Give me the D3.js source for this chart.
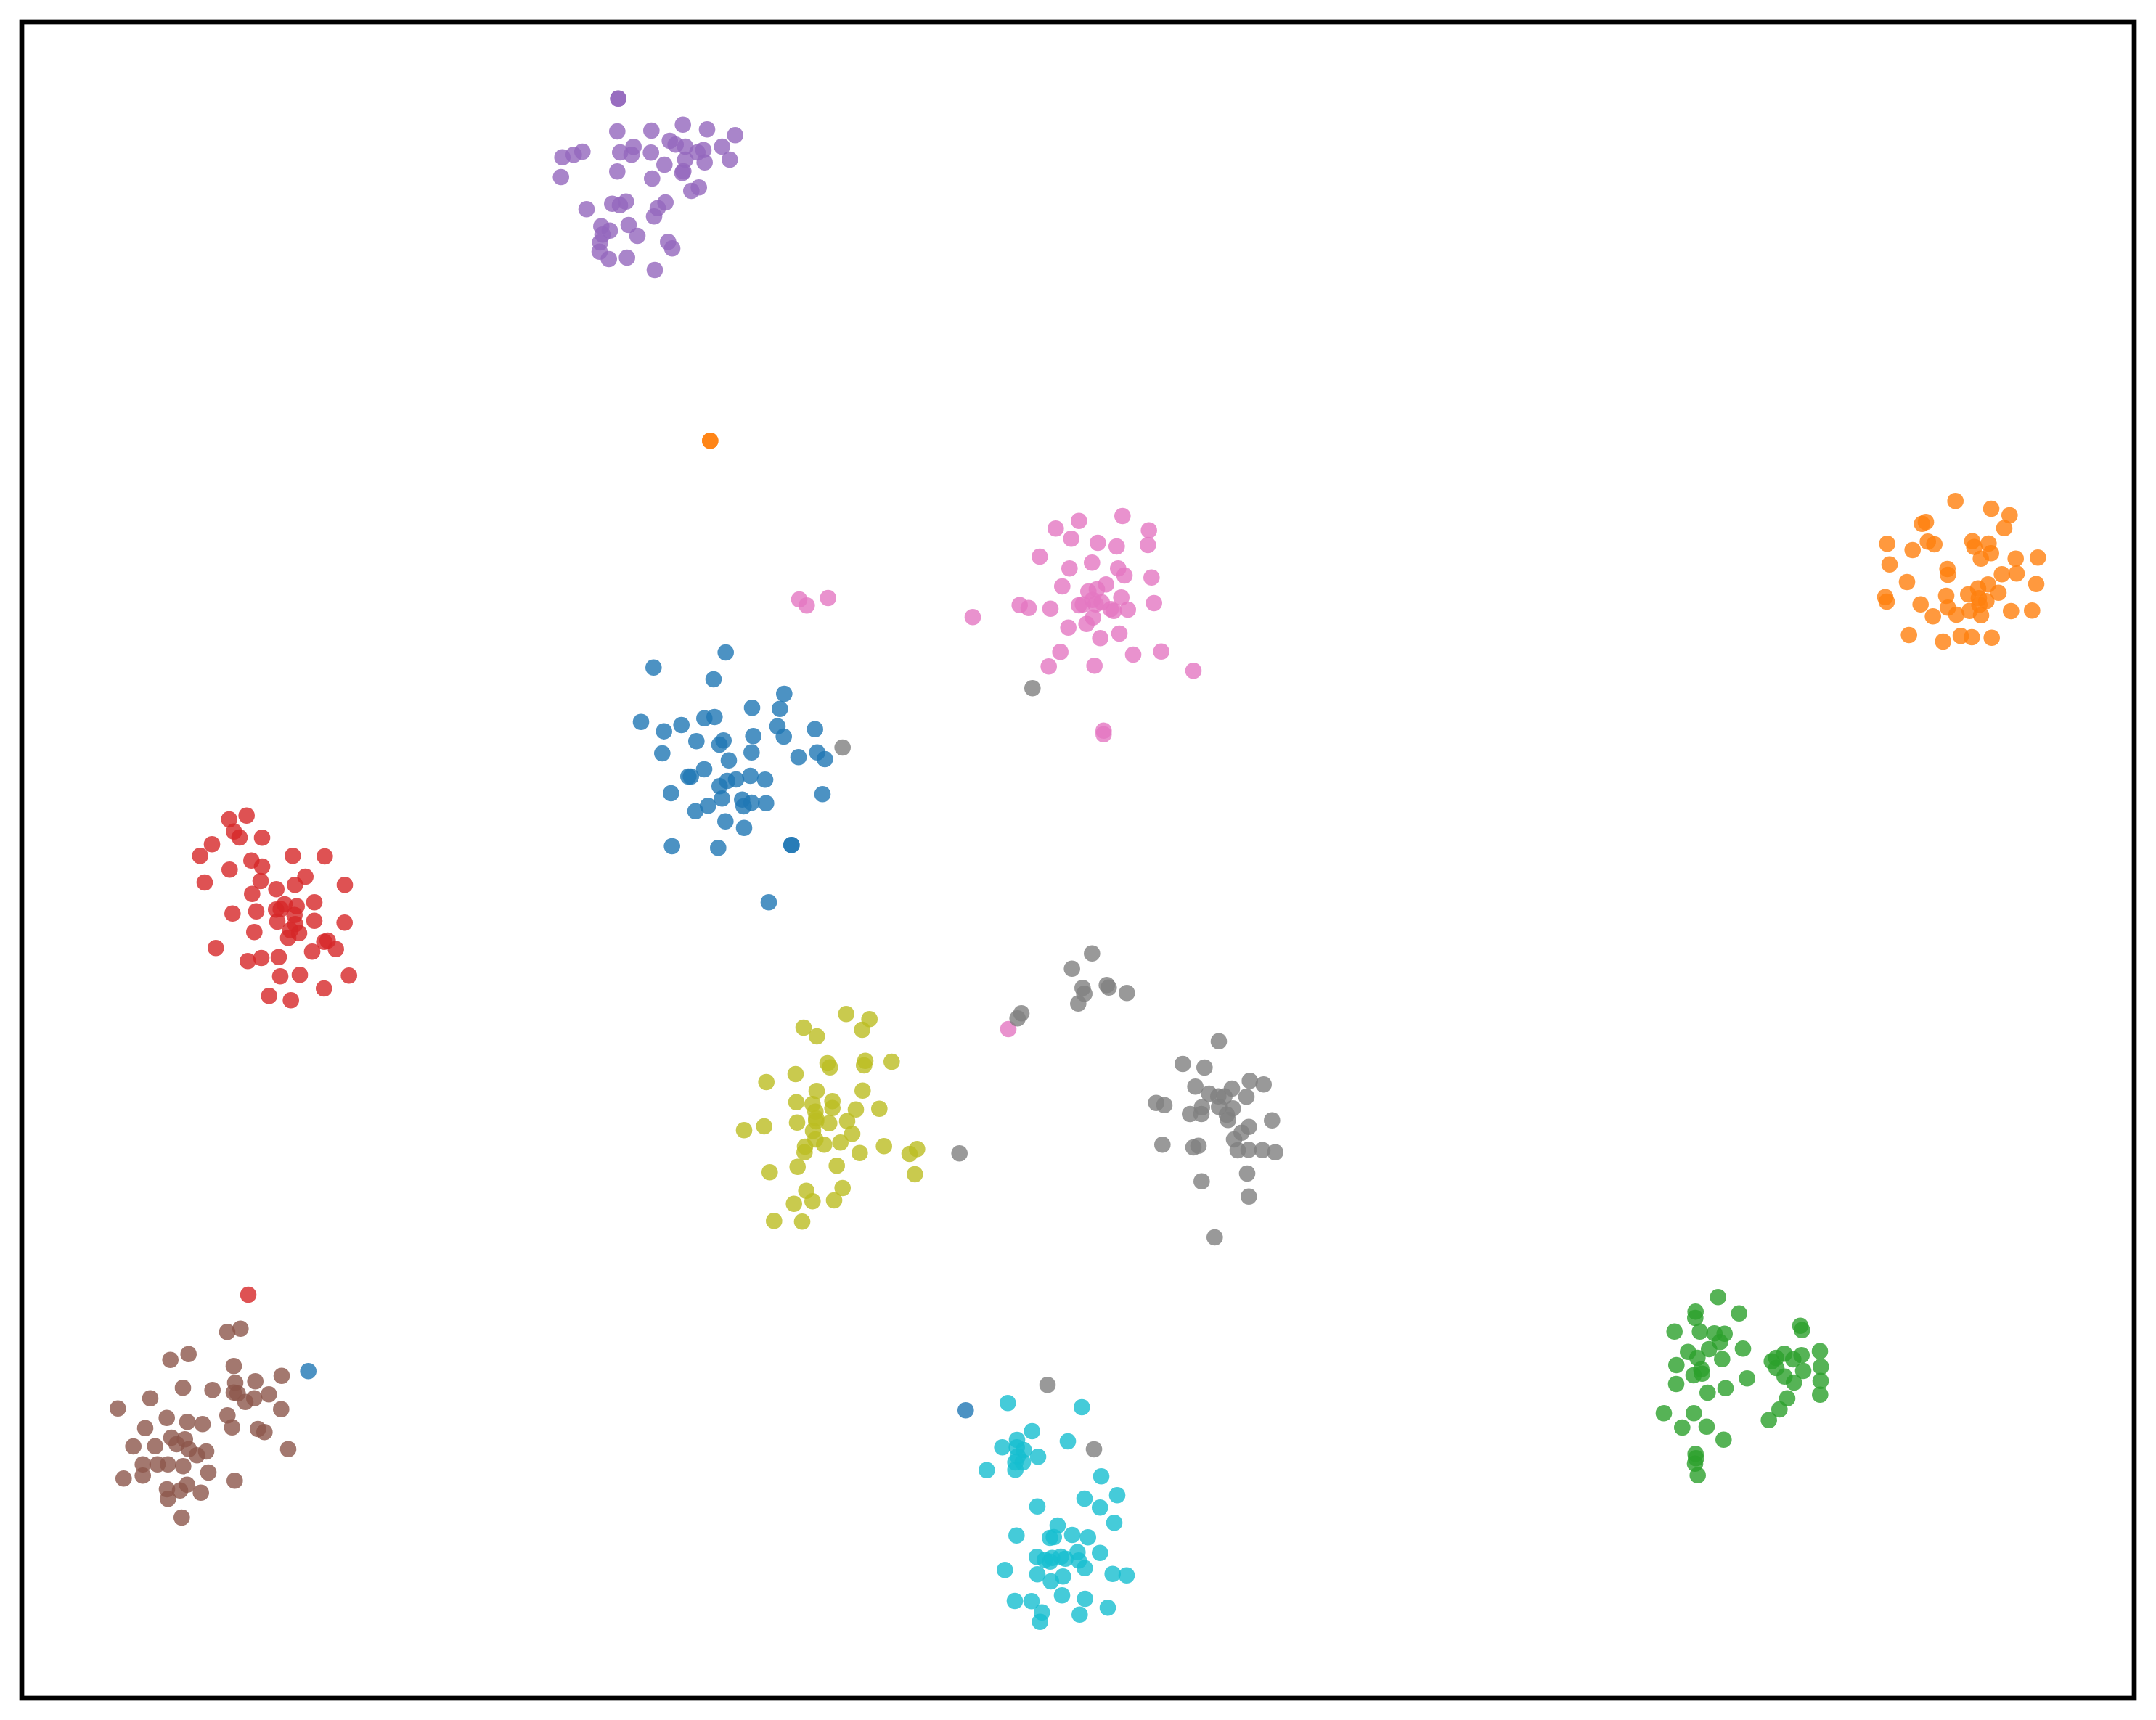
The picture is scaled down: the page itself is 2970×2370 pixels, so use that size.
<!DOCTYPE html>
<html>
<head>
<meta charset="utf-8">
<script src="https://cdn.jsdelivr.net/npm/d3@7"></script>
<style>
  html, body { margin: 0; padding: 0; background: #ffffff; }
  svg { display: block; }
</style>
</head>
<body>
<svg id="graphique"></svg>
<script>
// embedding coordinates (x, y), one array per class
var pts_blue = [
  [999.7,899],[900.3,919.7],[983,936],[1080.3,956],[1036,975.3],[1074.3,976.7],[883,994.7],[914.7,1007.7],
  [938.7,999],[970.3,989.7],[984.3,988],[1071,1000.7],[1079.7,1015],[1122.7,1004.7],[959.3,1021.3],[996.7,1020.3],
  [991,1026],[1037.7,1014.3],[912.3,1038],[1035.3,1036.7],[1004,1047.7],[1100,1043.3],[1125.7,1036.7],[1136.3,1046],
  [970,1060],[948.3,1070],[951.7,1070],[924.3,1093],[991.3,1083.3],[1001.7,1076],[1014,1074],[1033.7,1069],
  [1054,1074.3],[994.7,1100.3],[975.3,1110.3],[958,1117.7],[1022.3,1101.7],[1024.3,1111],[1035.3,1106],[1055.3,1106.7],
  [1133,1094.3],[999.3,1131.7],[1025,1140.7],[925.7,1166],[989.3,1168.3],[1090.3,1164.3],[1090.3,1164.3],[1059,1243.3],
  [1330.3,1943.3],[424.7,1889.3]
];
var pts_orange = [
  [2693.7,690.3],[2743,701],[2768.3,710],[2761,727.7],[2647.7,721.7],[2653,719.3],[2599.7,749.3],[2634.7,758],
  [2655.7,746.3],[2664.7,750],[2717,745.7],[2719.7,753.7],[2739.3,749],[2742.7,762.3],[2728.7,769.7],[2776.7,769.7],
  [2807.3,768.3],[2603,777.7],[2682.7,784],[2683.3,792],[2627,802],[2757.7,791.3],[2778,790.3],[2805,804.7],
  [2725,810.7],[2738.7,805.3],[2753,816.7],[2711.3,819],[2726,824.3],[2736.3,828.3],[2726.7,833.3],[2597,822.7],
  [2599,829],[2645.7,832.7],[2681,821],[2683.3,837.3],[2695,847],[2713.3,841.7],[2729,847.7],[2662.7,849.3],
  [2770.3,842],[2799.3,841.3],[2629.7,875],[2676.7,884],[2701,876.3],[2716.3,878],[2743.7,878.7],
  [978.3,607.3],[978.3,607.3]
];
var pts_green = [
  [2366.7,1787.3],[2395.7,1809.7],[2335.7,1807.3],[2335.3,1816],[2306.7,1834.7],[2341.7,1834.7],[2361.7,1837.3],[2375.7,1837.7],
  [2369.3,1849.3],[2480,1826.7],[2482.3,1832.7],[2325.3,1862.7],[2354.3,1859],[2401,1858.3],[2338.3,1871],[2372.3,1872.7],
  [2309.3,1881],[2343.7,1886.7],[2333,1895],[2344.7,1892.7],[2309,1907],[2406.7,1899.3],[2352.3,1919],[2377,1912.7],
  [2440.7,1875.7],[2446.7,1871],[2458,1865.3],[2470.3,1873],[2481.7,1867.3],[2447,1885],[2458.3,1896.7],[2484,1889],
  [2471.3,1905],[2507,1861.7],[2508.3,1883.3],[2508,1902.7],[2507.3,1921.7],[2462,1926.7],[2451.3,1942],[2436.7,1956.7],
  [2292,1947.3],[2333.3,1947.3],[2317.3,1967],[2351,1965.7],[2374.3,1983.7],[2335.7,2003.3],[2336.3,2009.3],[2335,2016.7],
  [2338.7,2032.7]
];
var pts_red = [
  [339.7,1123.7],[315.7,1129],[322.3,1145.7],[330,1154],[361,1154.3],[292,1163.3],[275.7,1179.3],[403.3,1179.3],
  [447.3,1180],[346.3,1185.7],[361,1194],[316.3,1198.3],[420.7,1208],[282,1216],[359,1214],[406.3,1219.3],
  [475,1219.3],[380.7,1225.3],[347.3,1231.7],[433,1243.3],[392,1246],[408.7,1248.7],[320.3,1258.7],[353,1255.7],
  [380.3,1253.3],[386.7,1252.7],[405.7,1260.7],[433,1268.7],[474.7,1271.3],[382,1270],[406.7,1273.3],[350.3,1284.3],
  [400,1281.7],[412,1285.7],[397,1292.3],[446.7,1297.7],[451.3,1296],[462.7,1307.7],[297.3,1306.3],[430,1311.3],
  [341.3,1324.3],[360,1320],[384,1318.7],[386,1345.3],[413,1343.3],[480.7,1344.3],[446.3,1362],[370.7,1372.3],
  [400.7,1378.3],
  [342,1784]
];
var pts_purple = [
  [851.7,135.7],[851.7,135.7],[850.3,181],[897.3,180],[940.7,171.7],[974,178.3],[1012.7,186.3],[774.7,216.7],
  [790.3,213.3],[802.3,209],[854.3,210],[872.7,202.3],[870,213.3],[896.7,210.3],[922.7,194],[930.7,199.3],
  [944,202],[960.7,210],[969,206.7],[994.7,202],[1005.3,220],[944,220],[970.7,223.7],[915.3,227],
  [941.3,236],[940,238.3],[850.3,236.3],[898.3,246],[772.7,244],[952.3,263],[962.7,258.3],[808,288.3],
  [843.3,280.7],[854,282.7],[862.3,277.7],[906,286.7],[916.7,279],[901,298.3],[828.3,311.7],[840,317.7],
  [830,323.3],[866,310],[878,325],[826.7,334],[920.3,333.3],[926,342.3],[826,346.7],[838.7,357],
  [863.7,355],[902,372]
];
var pts_brown = [
  [313,1835.3],[331.3,1830.7],[234.7,1873.7],[259.7,1865.7],[322,1882.3],[388,1895.7],[252,1912.3],[292.7,1915.3],
  [324,1905.3],[351.7,1903.3],[322,1918.7],[327.3,1920],[338,1931.7],[350.3,1926.7],[370.3,1921.3],[207,1926.7],
  [162.3,1940.7],[387.3,1941.7],[313.3,1950.3],[229.7,1953.7],[258,1959.3],[279,1962.3],[319.7,1966.7],[355.3,1969],
  [364.3,1973.3],[200,1967.7],[236,1981],[254.7,1983.3],[243.3,1990],[183.7,1993],[213.7,1992.7],[260,1996.7],
  [271.3,2005.3],[284,2000],[397,1996.7],[196.7,2017.7],[217,2017.7],[231.3,2017.7],[252.3,2020.3],[287,2029],
  [170.3,2037.3],[196.7,2033.3],[323.3,2040.3],[257.7,2045.7],[230,2052],[248,2053.7],[276.7,2056.7],[231.3,2065.3],
  [250.3,2091]
];
var pts_pink = [
  [1546.3,711],[1486.3,717.7],[1454.3,728.3],[1582.7,730.7],[1475.7,742.3],[1512.3,748],[1538.3,753],[1581.3,751],
  [1432.3,767],[1504.3,775.3],[1473.3,783.3],[1540.3,783.3],[1549,793],[1586.3,795.7],[1463.3,808],[1523.7,805.3],
  [1499.3,815],[1511,812],[1544.7,823.3],[1404.7,833.7],[1417,837.7],[1447,838.7],[1486.3,834],[1491.7,832.7],
  [1505,826.7],[1509.3,832.7],[1517.7,830],[1530,839.3],[1534.3,841.7],[1553.7,840],[1589.7,831],[1340,850.3],
  [1505.7,850.7],[1496.7,859.7],[1471.7,864.7],[1515.7,879.3],[1542,873],[1460.7,898.3],[1561,902],[1599.7,897.7],
  [1444.7,918.3],[1507.7,917.3],[1644,924.3],[1520.3,1006.7],[1520.3,1011.7],
  [1101,826],[1111.3,834.3],[1140.7,824],[1389,1418]
];
var pts_gray = [
  [1504.3,1313.7],[1476.7,1334.7],[1491.3,1361.3],[1493.7,1369.3],[1485.3,1382.7],[1524.7,1357.3],[1527.3,1360.7],[1552.3,1368.3],
  [1407,1396.3],[1401.7,1403.3],[1679,1434.7],[1629.3,1466],[1659.3,1471],[1646.7,1497.3],[1721.7,1489.3],[1740.7,1494.3],
  [1697,1500],[1665.7,1507],[1678.3,1510.7],[1686.7,1510.7],[1717,1511.3],[1592.7,1519.7],[1604,1522.7],[1655.7,1525.7],
  [1679.3,1525.3],[1698.3,1527.3],[1639.3,1535],[1655,1535],[1690,1536],[1691.7,1543.3],[1752.3,1543.7],[1720.3,1552.7],
  [1710.3,1560.7],[1700,1570],[1601.3,1577.3],[1644,1581],[1651,1578.7],[1705,1585],[1720,1584.3],[1739,1584.7],
  [1756.7,1587.7],[1718,1617],[1655.3,1627.7],[1720.3,1648.7],[1673.3,1705],
  [1422.3,948.3],[1160.7,1030],[1321.7,1589.3],[1443,1908.3],[1507,1997]
];
var pts_olive = [
  [1165.7,1397.3],[1197.7,1404.3],[1187.7,1419],[1107,1416],[1125.3,1428],[1140,1465],[1143.3,1470.7],[1192,1461.7],
  [1190.3,1468],[1228.3,1463],[1096,1480],[1055.7,1491],[1125,1503.3],[1188.3,1502.7],[1097,1518.7],[1119.3,1521.3],
  [1146.7,1517.3],[1146.7,1526.7],[1123.3,1531.7],[1179,1528.7],[1211.3,1527.7],[1098,1546.7],[1124.3,1541],[1124.3,1545],
  [1142.3,1547.7],[1167,1544.7],[1025,1557.3],[1052.7,1552],[1120,1558.3],[1174,1562.3],[1123.3,1570],[1135.3,1577.3],
  [1157.7,1574.3],[1109,1580],[1108.3,1587.7],[1184.3,1588.7],[1217.7,1579.3],[1253,1590],[1263.3,1583.3],[1098.7,1607.7],
  [1152.7,1606.3],[1060.3,1615.3],[1260.3,1618],[1110.7,1640.7],[1160.7,1637],[1119.3,1655.3],[1149,1654],[1093.7,1658.7],
  [1066.3,1682.3],[1105,1683.3]
];
var pts_cyan = [
  [1388.3,1933.3],[1490.3,1939],[1421.7,1972],[1471,1986],[1380.7,1994.3],[1401,1984],[1400.7,1994.3],[1410.3,1998],
  [1430,2007.3],[1402,2006.7],[1398.7,2015],[1409,2015],[1398.7,2025.3],[1359.3,2025.7],[1517,2034.3],[1539,2060.3],
  [1494,2065],[1515.3,2077.3],[1429,2075.7],[1535,2098.3],[1457,2102],[1400.3,2115.7],[1446.3,2119],[1451.7,2118],
  [1477,2115],[1498.7,2118.3],[1428.3,2145.3],[1439.3,2149.3],[1446.7,2151.7],[1449.3,2146.7],[1461.3,2145],[1467.7,2147.7],
  [1484.3,2138.7],[1486,2150.3],[1494.3,2160.7],[1515.3,2139.7],[1384.3,2163.3],[1429,2169.3],[1447.7,2179],[1464.3,2172.3],
  [1532.7,2168.7],[1552,2170.7],[1463,2198.3],[1494.7,2203],[1398,2206],[1421,2206.3],[1526,2215.3],[1435.3,2221.7],
  [1487.3,2224.7],[1432.7,2234.7]
];

var classes = [pts_blue, pts_orange, pts_green, pts_red, pts_purple, pts_brown, pts_pink, pts_gray, pts_olive, pts_cyan];
var couleurs = ["#1f77b4","#ff7f0e","#2ca02c","#d62728","#9467bd","#8c564b","#e377c2","#7f7f7f","#bcbd22","#17becf"];

var x_domain = [30, 2940];
var y_domain = [30, 2340];

function drawScatter(){
	var WIDTH = 2970;
	var HEIGHT = 2370;
	var MARGINS = { top: 30, right: 30, bottom: 30, left: 30 };

	var graphique = d3.select("#graphique")
		.attr("width", WIDTH)
		.attr("height", HEIGHT);

	var xScale = d3.scaleLinear().domain(x_domain).range([MARGINS.left, WIDTH - MARGINS.right]);
	var yScale = d3.scaleLinear().domain(y_domain).range([MARGINS.top, HEIGHT - MARGINS.bottom]);

	// points, one group per class
	for(var i = 0; i < classes.length; i++){
		graphique.append("g")
			.selectAll("circle")
			.data(classes[i])
			.enter()
			.append("circle")
			.attr("cx", function(d){ return xScale(d[0]); })
			.attr("cy", function(d){ return yScale(d[1]); })
			.attr("r", 11.3)
			.attr("fill", couleurs[i])
			.attr("fill-opacity", 0.8);
	}

	// cadre (no ticks)
	graphique.append("rect")
		.attr("x", xScale(x_domain[0]))
		.attr("y", yScale(y_domain[0]))
		.attr("width", xScale(x_domain[1]) - xScale(x_domain[0]))
		.attr("height", yScale(y_domain[1]) - yScale(y_domain[0]))
		.attr("fill", "none")
		.attr("stroke", "black")
		.attr("stroke-width", 6.7);
}

drawScatter();
</script>
</body>
</html>
